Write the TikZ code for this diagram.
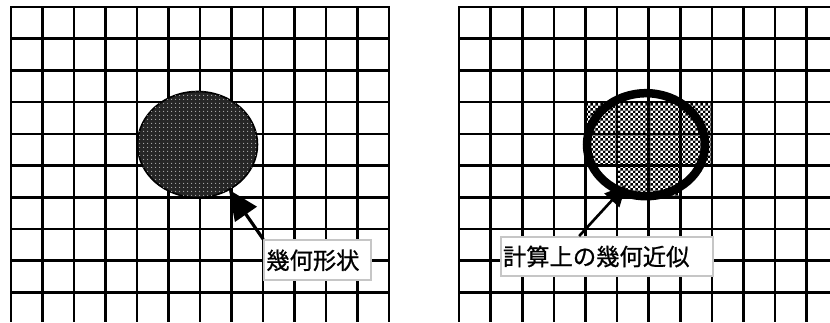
\documentclass[tikz,border=0pt]{standalone}
\usepackage{fontspec}
\newfontfamily\jpfont[FakeBold=0.8]{Noto Sans CJK JP}
\usetikzlibrary{shapes.geometric,arrows.meta,patterns,patterns.meta,calc}
\tikzdeclarepattern{
  name=wdots, type=uncolored,
  bounding box={(-2pt,-2pt) and (2pt,2pt)},
  tile size={(4pt,4pt)},
  code={\fill (0pt,0pt) circle (0.7pt);}
}
\tikzdeclarepattern{
  name=fcheck, type=uncolored,
  bounding box={(0pt,0pt) and (5.4pt,5.4pt)},
  tile size={(5.4pt,5.4pt)},
  code={\fill (0pt,0pt) rectangle (2.7pt,2.7pt) (2.7pt,2.7pt) rectangle (5.4pt,5.4pt);}
}
\tikzset{
  gridline/.style={line width=2.6pt, black},
  lbl/.style={draw=gray!45, line width=2pt, fill=white, anchor=north west,
    font=\jpfont\fontsize{23.3pt}{26pt}\selectfont, align=left,
    inner xsep=2pt, inner ysep=0pt},
  ellshape/.style={ellipse, inner sep=0pt, outer sep=0pt},
}
\begin{document}
\begin{tikzpicture}[x=1pt,y=-1pt]
\useasboundingbox (0,0) rectangle (830,322);
% left grid
\foreach \i in {0,...,12} \draw[gridline] ({11+31.5*\i},7) -- ({11+31.5*\i},322);
\foreach \j in {0,...,9} \draw[gridline] (10,{7+31.7*\j}) -- (390,{7+31.7*\j});
% right grid
\foreach \i in {0,...,11} \draw[gridline] ({459+31.6*\i},7) -- ({459+31.6*\i},322);
\foreach \j in {0,...,9} \draw[gridline] (458,{7+31.7*\j}) -- (830,{7+31.7*\j});
% left geometry
\node[ellshape, draw, line width=1.6pt, minimum width=120pt, minimum height=106pt,
  fill=black!85, postaction={pattern=wdots, pattern color=white!70!black}]
  (ellL) at (197.5,144.5) {};
% right approximation cells
\path[pattern=fcheck, pattern color=black]
  (585.4,102.1) rectangle (711.8,165.5)
  (617,165.5) rectangle (680.2,197.2);
\node[ellshape, draw, line width=8.5pt, minimum width=118pt, minimum height=103pt]
  (ellR) at (646,144.7) {};
% labels
\node[lbl, text width=103pt, minimum height=40pt] (lblL) at (263.3,239.3) {幾何形状};
\node[lbl, text width=208pt, minimum height=39pt] (lblR) at (500,236) {計算上の幾何近似};
% arrows
\draw[line width=3.2pt, -{Triangle[length=30pt,width=26pt]}] (lblL.north west) -- (ellL);
\coordinate (tipR) at (626,185);
\draw[line width=2.6pt, -{Triangle[length=21pt,width=20pt]}]
  ($(lblR.north west)!0.37!(lblR.north east)$) -- (tipR);
\end{tikzpicture}
\end{document}
